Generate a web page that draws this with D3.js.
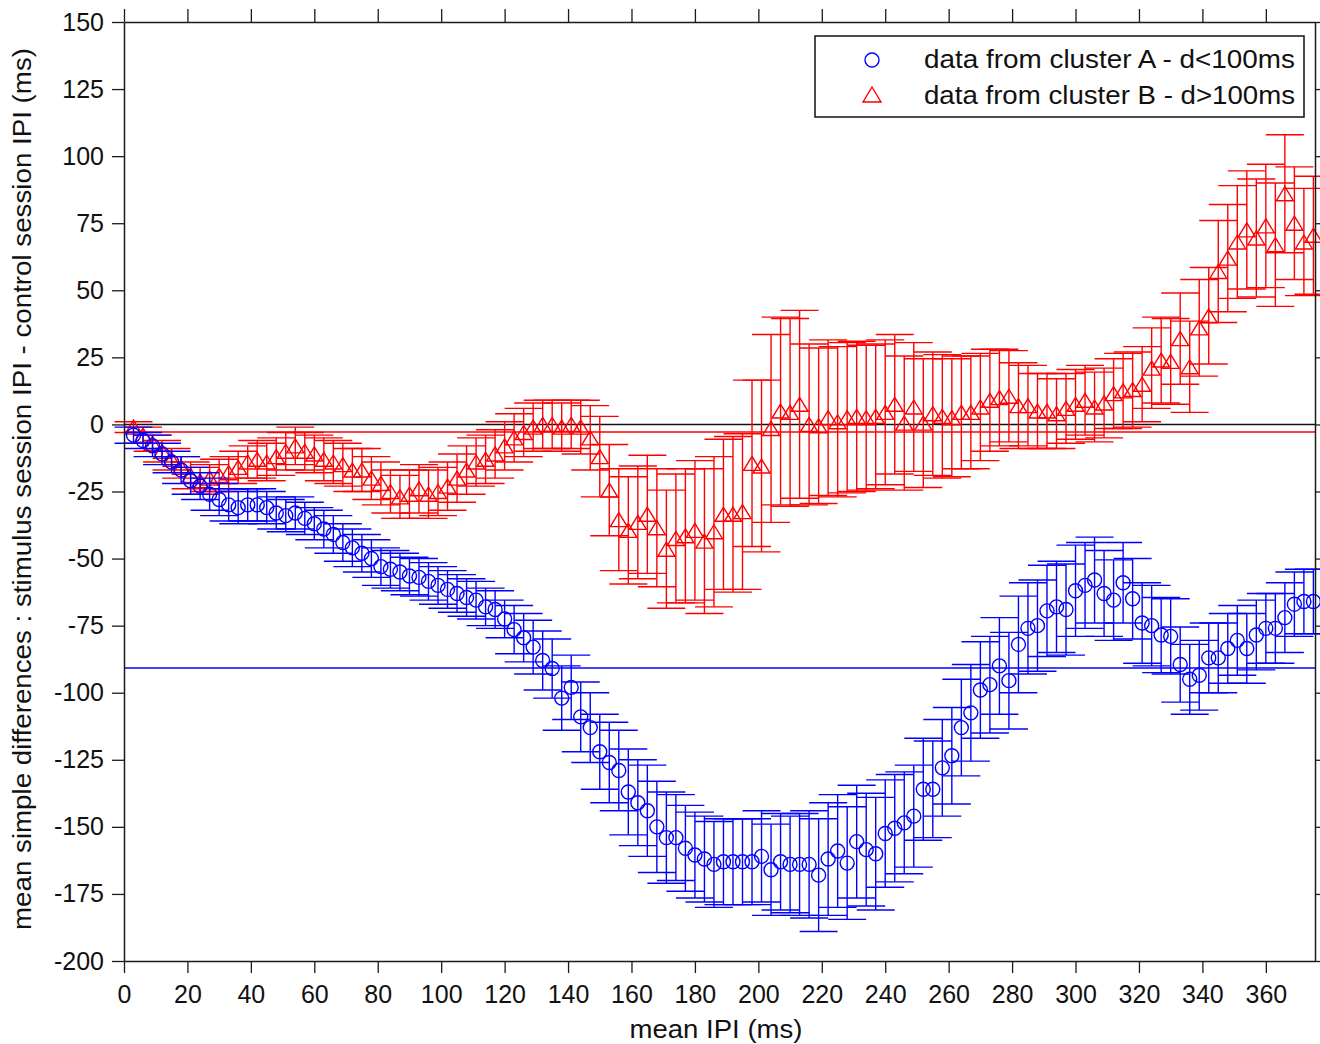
<!DOCTYPE html>
<html lang="en">
<head>
	<meta charset="UTF-8">
	<title>mean simple differences</title>
	<style>
		*{margin:0;padding:0;}
		body{background:#fff;}
		svg text{font-family:"Liberation Sans",Arial,sans-serif;fill:#111;}
	</style>
</head>
<body>
	<div id="container"></div>
	<script src="https://cdn.jsdelivr.net/npm/d3@7/dist/d3.min.js"></script>
	<script>
		// mean IPI (ms) of each bin
		var ipi = [
			3,6,9,12,15,18,21,24,27,30,33,36,39,42,45,48,51,54,57,60,
			63,66,69,72,75,78,81,84,87,90,93,96,99,102,105,108,111,114,117,120,
			123,126,129,132,135,138,141,144,147,150,153,156,159,162,165,168,171,174,177,180,
			183,186,189,192,195,198,201,204,207,210,213,216,219,222,225,228,231,234,237,240,
			243,246,249,252,255,258,261,264,267,270,273,276,279,282,285,288,291,294,297,300,
			303,306,309,312,315,318,321,324,327,330,333,336,339,342,345,348,351,354,357,360,
			363,366,369,372,375]

		// cluster A (d<100ms)
		var meanA = [
			-4,-6,-8,-11,-14,-17,-21,-23,-26,-28,-30,-31,-30,-30,-31,-33,-34,-33,-35,-37,
			-39,-41,-44,-46,-48,-50,-53,-54,-55,-56.5,-57,-58.5,-60,-61.5,-63,-64.5,-65.5,-68,-69,-72.5,
			-76.5,-79.5,-83,-88,-91,-102,-98,-109,-113,-122,-126,-129,-137,-141,-144,-150,-154,-154,-158,-160.5,
			-162,-164,-163,-163,-163,-163,-161,-166,-163,-164,-164,-164,-168,-162,-159,-163.5,-155.5,-158.5,-160,-152.5,
			-150.5,-148.5,-146,-136,-136,-128,-123.5,-113,-107.5,-99,-97,-90,-95.5,-82,-76,-75,-69.5,-68,-69,-62,
			-60,-58,-63,-65.5,-59,-65,-74,-75,-78.5,-79,-89.5,-95,-93.5,-87,-87,-83.5,-80.5,-83.5,-78.5,-76,
			-76,-72,-67,-66,-66]
		var errA = [
			3,3,4,4,4,5,5,5,6,6,6,6,6,6,6,6,6,6,6,6,
			7,7,7,7,7,7,7,7,7,7,7,7,7,7,7,7,7,7,7,7,
			9,9,10,11,11,12,12,13,13,14,15,15,16,16,17,17,17,16,16,16,
			16,16,16,16,16,16,17,17,18,18,19,20,21,21,21,21,21,21,21,20,
			20,19,19,19,18,18,18,18,18,18,18,18,18,18,17,17,17,17,17,17,
			16,16,16,15,15,15,15,15,14,14,14,13,13,13,13,13,13,13,13,13,
			13,13,12,12,12]

		// cluster B (d>100ms)
		var meanB = [
			-1,-4,-7,-10,-13,-16,-19,-21,-20,-19,-18,-16,-14,-13,-14,-12,-10,-8,-10,-11,
			-13,-14,-15,-17,-17,-20,-22,-25,-27,-26,-24,-26,-25,-23,-20,-17,-14,-13,-11,-8,
			-5,-3,-1,0,0,-1,0,-1,-5,-12,-24.5,-35.5,-39.5,-36.5,-33.5,-38.5,-46.5,-42.5,-41.5,-39.5,
			-43.5,-40,-33.5,-33.5,-32.5,-14.5,-15.5,-1.5,5,4.5,7.5,0,-0.5,2.5,1,2.5,3,2.5,3,4.5,
			7.5,0.5,6.5,0.5,4,3,2.5,4.5,4.5,6.5,9,10,10.5,7,7,5,5,4,6,7.5,
			9,6.5,8,11.5,12.5,13,15,21,24,23.5,32,21.5,36,40.5,57,62,68,72.5,69.5,74,
			67,86,75,68,70.5]
		var errB = [
			2,3,3,4,4,4,5,5,5,6,6,6,6,7,7,7,7,7,7,7,
			8,8,8,8,8,8,8,8,8,9,9,9,9,9,9,9,9,9,9,9,
			9,9,9,9,9,9,9,10,12,15,17,19,20,21,22,22,22,24,25,26,
			27,28,28,29,29,31,32,35,35,35,35,30,29,29,28,28,28,27,27,27,
			26,25,24,24,23,23,22,21,21,20,19,18,17,16,15,14,14,13,13,13,
			13,13,13,13,14,14,14,15,16,16,17,17,18,18,19,20,21,22,22,23,
			23,22,21,20,22]

		// horizontal mean lines: zero, cluster B, cluster A
		var refValues = [0, -2.8, -90.8]
		var refColors = ['#111', '#ff0000', '#0000ff']

		var xTicks = [0,20,40,60,80,100,120,140,160,180,200,220,240,260,280,300,320,340,360]
		var yTicks = [150,125,100,75,50,25,0,-25,-50,-75,-100,-125,-150,-175,-200]

		var W = 1320, H = 1044
		var plotL = 124, plotR = 1315, plotT = 22, plotB = 961
		var capW = 19
		var blue = '#0000ff', red = '#ff0000'

		var svg = d3.select('#container').append('svg').attr('width', W).attr('height', H)

		var sx = d3.scaleLinear().domain([0, 375.5]).range([plotL, plotR])
		var sy = d3.scaleLinear().domain([-200, 150]).range([plotB, plotT])

		// reference lines
		svg.selectAll('line.ref')
			.data(refValues)
			.enter()
			.append('line')
			.attr('x1', plotL).attr('x2', plotR)
			.attr('y1', function (d) {return sy(d)})
			.attr('y2', function (d) {return sy(d)})
			.attr('stroke', function (d, i) {return refColors[i]})
			.attr('stroke-width', 1.5)

		function drawSeries(means, errs, color, shape) {
			var g = svg.append('g')
				.attr('stroke', color)
				.attr('stroke-width', 1.4)
				.attr('fill', 'none')
			var pts = g.selectAll('g')
				.data(ipi.map(function (d, i) {return {x: d, m: means[i], e: errs[i]}}))
				.enter()
				.append('g')
				.attr('transform', function (d) {return `translate(${sx(d.x)},0)`})
			pts.append('line')
				.attr('y1', function (d) {return sy(d.m + d.e)})
				.attr('y2', function (d) {return sy(d.m - d.e)})
			pts.append('line')
				.attr('x1', -capW).attr('x2', capW)
				.attr('y1', function (d) {return sy(d.m + d.e)})
				.attr('y2', function (d) {return sy(d.m + d.e)})
			pts.append('line')
				.attr('x1', -capW).attr('x2', capW)
				.attr('y1', function (d) {return sy(d.m - d.e)})
				.attr('y2', function (d) {return sy(d.m - d.e)})
			if (shape == 'circle') {
				pts.append('circle')
					.attr('cy', function (d) {return sy(d.m)})
					.attr('r', 7)
			} else {
				pts.append('path')
					.attr('d', function (d) {
						var c = sy(d.m)
						return `M0,${c - 7}L8.5,${c + 7}L-8.5,${c + 7}Z`
					})
			}
		}

		drawSeries(meanB, errB, red, 'triangle')
		drawSeries(meanA, errA, blue, 'circle')

		// axes
		var axisColor = '#1a1a1a'
		var plainNum = function (d) {return String(d)}
		function styleAxis(g, labels) {
			g.select('.domain').attr('stroke', axisColor).attr('stroke-width', 1.5)
			g.selectAll('.tick line').attr('stroke', axisColor).attr('stroke-width', 1.3)
			g.selectAll('.tick text')
				.attr('fill', '#111')
				.style('font-size', '25px')
				.style('font-family', '"Liberation Sans",Arial,sans-serif')
			if (!labels) g.selectAll('.tick text').remove()
		}

		svg.append('g')
			.attr('transform', `translate(0,${plotB})`)
			.call(d3.axisBottom(sx).tickValues(xTicks).tickFormat(plainNum).tickSize(12).tickSizeOuter(0).tickPadding(12))
			.call(function (g) {styleAxis(g, true)})

		svg.append('g')
			.attr('transform', `translate(0,${plotT})`)
			.call(d3.axisTop(sx).tickValues(xTicks).tickSize(13).tickSizeOuter(0))
			.call(function (g) {styleAxis(g, false)})

		svg.append('g')
			.attr('transform', `translate(${plotL},0)`)
			.call(d3.axisLeft(sy).tickValues(yTicks).tickFormat(plainNum).tickSize(12).tickSizeOuter(0).tickPadding(8))
			.call(function (g) {styleAxis(g, true)})

		svg.append('g')
			.attr('transform', `translate(${plotR},0)`)
			.call(d3.axisRight(sy).tickValues(yTicks).tickSize(12).tickSizeOuter(0))
			.call(function (g) {styleAxis(g, false)})

		// axis titles
		svg.append('text')
			.text('mean IPI (ms)')
			.attr('x', 716).attr('y', 1038)
			.attr('text-anchor', 'middle')
			.attr('textLength', 173).attr('lengthAdjust', 'spacingAndGlyphs')
			.style('font-size', '25px')

		svg.append('text')
			.text('mean simple differences : stimulus session IPI - control session IPI (ms)')
			.attr('transform', 'translate(31,489) rotate(-90)')
			.attr('text-anchor', 'middle')
			.attr('textLength', 882).attr('lengthAdjust', 'spacingAndGlyphs')
			.style('font-size', '25px')

		// legend
		var legend = svg.append('g')
		legend.append('rect')
			.attr('x', 815).attr('y', 36).attr('width', 489).attr('height', 81)
			.attr('fill', '#fff').attr('stroke', '#111').attr('stroke-width', 1.5)
		legend.append('circle')
			.attr('cx', 872).attr('cy', 60).attr('r', 7)
			.attr('fill', 'none').attr('stroke', blue).attr('stroke-width', 1.4)
		legend.append('path')
			.attr('d', 'M872,87L881,102L863,102Z')
			.attr('fill', 'none').attr('stroke', red).attr('stroke-width', 1.4)
		legend.append('text')
			.text('data from cluster A - d<100ms')
			.attr('x', 924).attr('y', 68)
			.attr('textLength', 371).attr('lengthAdjust', 'spacingAndGlyphs')
			.style('font-size', '25px')
		legend.append('text')
			.text('data from cluster B - d>100ms')
			.attr('x', 924).attr('y', 104)
			.attr('textLength', 371).attr('lengthAdjust', 'spacingAndGlyphs')
			.style('font-size', '25px')
	</script>
</body>
</html>
